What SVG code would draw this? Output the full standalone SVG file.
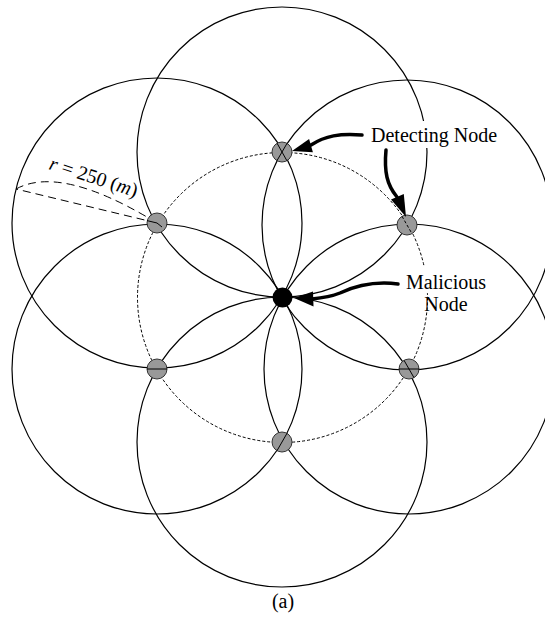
<svg xmlns="http://www.w3.org/2000/svg" width="545" height="621" viewBox="0 0 545 621">
<style>
.range{fill:none;stroke:#000;stroke-width:1.2}
.dash{fill:none;stroke:#000;stroke-width:1;stroke-dasharray:3,2}
.node{fill:#999;stroke:#333;stroke-width:1}
.inner{stroke:#000;stroke-width:1;fill:none}
.arrow{fill:none;stroke:#000;stroke-width:3.5;stroke-linecap:round}
.head{fill:#000}
.lbl{font-family:"Liberation Serif","Times New Roman",serif;font-size:20px;fill:#000}
.box{fill:#fff;stroke:none}
.rad{fill:none;stroke:#000;stroke-width:1;stroke-dasharray:8,5}
</style>
<rect width="545" height="621" fill="#fff"/>
<g id="connectors">
  <circle class="range" cx="282" cy="152" r="145"/>
  <circle class="range" cx="407" cy="225" r="145"/>
  <circle class="range" cx="409" cy="369" r="145"/>
  <circle class="range" cx="282" cy="442" r="145"/>
  <circle class="range" cx="157" cy="369" r="145"/>
  <circle class="range" cx="157" cy="223" r="145"/>
  <circle class="dash" cx="282.5" cy="297.5" r="145"/>
  <path class="rad" d="M157,223L16,189"/>
  <path class="rad" d="M16,189Q60,165 152,220"/>
</g>
<g id="nodes">
  <g id="node-top"><circle class="node" cx="282" cy="152" r="10"/><path class="inner" d="M277.1,143.3L286.9,160.7M277,160.6L287,143.4"/></g>
  <g id="node-topright"><circle class="node" cx="407" cy="225" r="10"/><path class="inner" stroke-dasharray="3,2" d="M402,216.3L412,233.7"/></g>
  <g id="node-bottomright"><circle class="node" cx="409" cy="369" r="10"/><path class="inner" d="M399,369L419,369M404,360.3L414,377.7"/></g>
  <g id="node-bottom"><circle class="node" cx="282" cy="442" r="10"/><path class="inner" d="M277,450.7L287,433.3"/></g>
  <g id="node-bottomleft"><circle class="node" cx="157" cy="369" r="10"/><path class="inner" d="M147,369L167,369"/></g>
  <g id="node-topleft"><circle class="node" cx="157" cy="223" r="10"/><path class="inner" d="M147,220.6L157,223L162,227"/></g>
  <g id="node-malicious"><circle cx="282.5" cy="297.5" r="10" fill="#000"/></g>
</g>
<g id="label-radius">
  <text class="lbl" transform="translate(48,169) rotate(18)" font-size="21"><tspan font-style="italic">r</tspan> = 250 (<tspan font-style="italic">m</tspan>)</text>
</g>
<g id="label-detecting">
  <rect class="box" x="366" y="121" width="126" height="27"/>
  <text class="lbl" x="371" y="142">Detecting Node</text>
  <path class="arrow" d="M362,135C340,133 325,136 311,145"/>
  <polygon class="head" points="292,151 309.1,138.9 312.9,152.3"/>
  <path class="arrow" d="M386,150C384,172 387,185 397,197"/>
  <polygon class="head" points="406,217 403.8,194.1 391,199.5"/>
</g>
<g id="label-malicious">
  <rect class="box" x="404" y="266" width="79" height="27"/>
  <rect class="box" x="430" y="293" width="52" height="22"/>
  <text class="lbl" x="406" y="289">Malicious</text>
  <text class="lbl" x="446" y="311" text-anchor="middle">Node</text>
  <path class="arrow" d="M398,284C375,281 355,286 340,293C330,297 322,298 312,299"/>
  <polygon class="head" points="294,298 313,291.5 313.5,306.5"/>
</g>
<text class="lbl" x="283" y="608" text-anchor="middle">(a)</text>
</svg>
